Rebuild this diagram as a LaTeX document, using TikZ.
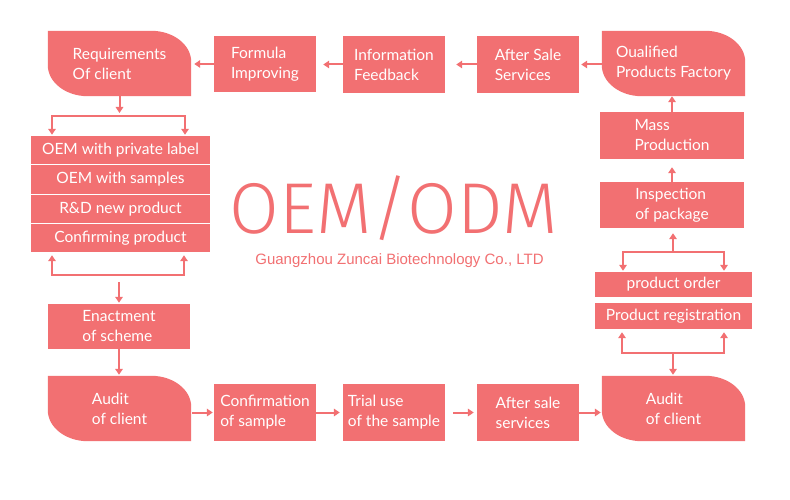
\documentclass[tikz,border=0pt]{standalone}
\usepackage{fontspec}
\setmainfont{Lato}
\newfontfamily\titlefont{Fira Sans Light}
\newfontfamily\subfont{Liberation Sans}
\usetikzlibrary{arrows.meta,calc,backgrounds}
\definecolor{pk}{RGB}{242,112,114}
\newcommand\blobfill[1]{%
  \fill[pk] (#1.north west) -- ($(#1.north east)+(-40,0)$)
    .. controls ($(#1.north east)+(-17.9,0)$) and ($(#1.north east)+(0,13.9)$) .. ($(#1.north east)+(0,31)$)
    -- (#1.south east) -- ($(#1.south west)+(40,0)$)
    .. controls ($(#1.south west)+(17.9,0)$) and ($(#1.south west)+(0,-13.9)$) .. ($(#1.south west)+(0,-31)$)
    -- cycle;}
\begin{document}
\begin{tikzpicture}[x=1pt,y=-1pt,
  txt/.style={text=white, align=left, inner sep=0pt, font=\fontsize{15.5}{20}\selectfont},
  box/.style={txt, fill=pk},
  listbox/.style={box, align=center, minimum width=179pt, minimum height=28pt},
  ln/.style={draw=pk, line width=2pt},
  arr/.style={ln, -{Triangle[length=6pt,width=7.5pt]}},
]
\useasboundingbox (0,0) rectangle (790,500);

% top row
\node[txt, minimum width=143pt, minimum height=65pt] (req) at (119.5,63.5) {Requirements\\Of client};
\node[box, minimum width=102pt, minimum height=56pt] (formula) at (265,64) {Formula\\Improving};
\node[box, minimum width=102pt, minimum height=57pt] (info) at (394,64.5) {Information\\Feedback};
\node[box, minimum width=102pt, minimum height=57pt] (after) at (528,64.5) {After Sale\\Services};
\node[txt, minimum width=143pt, minimum height=65pt] (qual) at (673.5,63.5) {Oualified\\Products Factory};

% right column
\node[box, minimum width=144pt, minimum height=47pt] (mass) at (672,135.5) {Mass\\Production};
\node[box, minimum width=144pt, minimum height=46pt] (insp) at (672,205) {Inspection\\of package};
\node[box, align=center, minimum width=157pt, minimum height=25pt] (order) at (673.5,284.5) {product order};
\node[box, align=center, minimum width=157pt, minimum height=26pt] (reg) at (673.5,316) {Product registration};

% bottom row
\node[txt, minimum width=143pt, minimum height=65pt] (audit2) at (673.5,408.5) {Audit\\of client};
\node[box, minimum width=102pt, minimum height=57pt] (after2) at (528,412.5) {After sale\\services};
\node[box, minimum width=102pt, minimum height=57pt] (trial) at (394,412.5) {Trial use\\of the sample};
\node[box, minimum width=102pt, minimum height=57pt] (confirm) at (265,412.5) {Confirmation\\of sample};
\node[txt, minimum width=143pt, minimum height=65pt] (audit1) at (119.5,408.5) {Audit\\of client};

% left column
\node[box, minimum width=142pt, minimum height=45pt] (enact) at (119,326.5) {Enactment\\of scheme};
\node[listbox] (l1) at (120.5,150) {OEM with private label};
\node[listbox] (l2) at (120.5,179.5) {OEM with samples};
\node[listbox] (l3) at (120.5,209) {R\&D new product};
\node[listbox] (l4) at (120.5,238) {Confirming product};

% title
\node[anchor=base, inner sep=0pt, text=pk, font=\titlefont\fontsize{72}{72}\selectfont] (title) at (394,233) {OEM/ODM};
\node[anchor=base, inner sep=0pt, text=pk, font=\subfont\fontsize{15}{15}\selectfont] (sub) at (399.5,264) {Guangzhou Zuncai Biotechnology Co., LTD};

\begin{pgfonlayer}{background}
  \fill[white] (0,0) rectangle (790,500);
  \blobfill{req}
  \blobfill{qual}
  \blobfill{audit1}
  \blobfill{audit2}
\end{pgfonlayer}

% top row arrows
\draw[arr, shorten >=3pt] (formula.west) -- (formula.west -| req.east);
\draw[arr, shorten >=7pt] (info.west) -- (info.west -| formula.east);
\draw[arr, shorten >=11pt] (after.west) -- (after.west -| info.east);
\draw[arr, shorten >=2pt] (qual.west |- after.west) -- (after.east);

% right column arrows
\draw[arr] (mass.north) -- (mass.north |- qual.south);
\draw[arr, shorten >=8pt] (insp.north) -- (mass.south);
\coordinate (rt) at (673,252);
\coordinate (rtl) at (623,252);
\coordinate (rtr) at (724,252);
\draw[arr, shorten >=5pt] (rt) -- (rt |- insp.south);
\draw[arr, shorten >=1pt] (rtr) -- (rtl) -- (rtl |- order.north);
\draw[arr, shorten >=1pt] (rtl) -- (rtr) -- (rtr |- order.north);
\coordinate (rb) at (673,353);
\coordinate (rbl) at (622,353);
\coordinate (rbr) at (724,353);
\draw[arr, shorten >=3pt] (rbr) -- (rbl) -- (rbl |- reg.south);
\draw[arr, shorten >=3pt] (rbl) -- (rbr) -- (rbr |- reg.south);
\draw[arr, shorten >=1pt] (rb) -- (rb |- audit2.north);

% bottom row arrows
\draw[arr, shorten >=1pt] (after2.east) -- (after2.east -| audit2.west);
\draw[arr, shorten <=8pt, shorten >=3pt] (trial.east) -- (after2.west);
\draw[arr, shorten >=3pt] (confirm.east) -- (trial.west);
\draw[arr, shorten <=1pt, shorten >=1pt] (audit1.east |- confirm.west) -- (confirm.west);

% left column arrows
\draw[arr, shorten >=1pt] (enact.south) -- (enact.south |- audit1.north);
\coordinate (d1) at (119,282);
\draw[arr, shorten >=1pt] (d1) -- (d1 |- enact.north);
\coordinate (bl) at (52,275);
\coordinate (br) at (184,275);
\draw[arr, shorten >=3pt] (br) -- (bl) -- (bl |- l4.south);
\draw[arr, shorten >=3pt] (bl) -- (br) -- (br |- l4.south);
\coordinate (tl) at (52,116);
\coordinate (tr) at (185,116);
\draw[arr, shorten >=3pt] (req.south) -- (req.south |- tl);
\draw[arr, shorten >=1pt] (tr) -- (tl) -- (tl |- l1.north);
\draw[arr, shorten >=1pt] (tl) -- (tr) -- (tr |- l1.north);
\end{tikzpicture}
\end{document}
